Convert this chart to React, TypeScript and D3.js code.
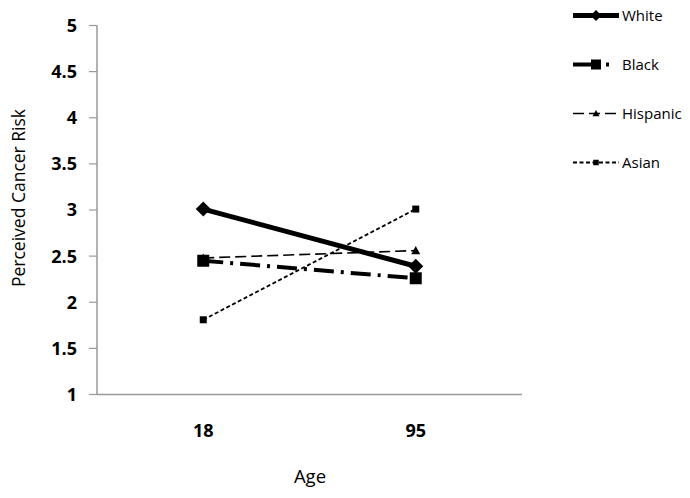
import React from "react";
import * as d3 from "d3";

const ages = ["18", "95"];
const yTicks = [1, 1.5, 2, 2.5, 3, 3.5, 4, 4.5, 5];
const groups = ["White", "Black", "Hispanic", "Asian"];
const white = [3.01, 2.39];
const black = [2.45, 2.26];
const hispanic = [2.48, 2.56];
const asian = [1.81, 3.01];

const width = 690;
const height = 498;
const font = "'Open Sans', Lato, sans-serif";

const styles: Record<string, { w: number; dash: string; legendDash: string; marker: string; size: number; legendSize: number }> = {
  White: { w: 5, dash: "", legendDash: "", marker: "diamond", size: 15, legendSize: 11 },
  Black: { w: 4, dash: "20,7,3,7", legendDash: "19,14,3,40", marker: "square", size: 12, legendSize: 10 },
  Hispanic: { w: 1.6, dash: "11,5", legendDash: "11,5", marker: "triangle", size: 9, legendSize: 7 },
  Asian: { w: 1.8, dash: "4,2.5", legendDash: "4,2.5", marker: "square", size: 7, legendSize: 5.5 },
};

const seriesValues: Record<string, number[]> = { White: white, Black: black, Hispanic: hispanic, Asian: asian };

const Marker = ({ type, x, y, size }: { type: string; x: number; y: number; size: number }) => {
  const h = size / 2;
  if (type === "diamond")
    return <path d={`M${x},${y - h}L${x + h},${y}L${x},${y + h}L${x - h},${y}Z`} fill="#000" />;
  if (type === "triangle")
    return <path d={`M${x},${y - h}L${x + h},${y + h * 0.8}L${x - h},${y + h * 0.8}Z`} fill="#000" />;
  return <rect x={x - h} y={y - h} width={size} height={size} fill="#000" />;
};

export default function App() {
  const x = d3.scaleBand().domain(ages).range([97, 522]);
  const y = d3.scaleLinear().domain([1, 5]).range([394.5, 25.5]);
  const cx = (a: string) => (x(a) as number) + x.bandwidth() / 2;
  const line = d3
    .line<number>()
    .x((_, i) => cx(ages[i]))
    .y((d) => y(d));

  return (
    <svg width={width} height={height} style={{ position: "absolute", left: 0, top: 0, background: "#fff" }}>
      {/* axes */}
      <line x1={97} x2={97} y1={y(5)} y2={y(1)} stroke="#999" strokeWidth={1.5} />
      <line x1={97} x2={522} y1={y(1)} y2={y(1)} stroke="#999" strokeWidth={1.5} />
      {yTicks.map((t) => (
        <g key={t}>
          <line x1={89} x2={97} y1={y(t)} y2={y(t)} stroke="#999" strokeWidth={1.2} />
          <text x={77} y={y(t)} dy="0.36em" textAnchor="end" fontFamily={font} fontWeight="bold" fontSize={18}>
            {t}
          </text>
        </g>
      ))}
      {ages.map((a) => (
        <text key={a} x={cx(a)} y={437} textAnchor="middle" fontFamily={font} fontWeight="bold" fontSize={18}>
          {a}
        </text>
      ))}
      <text x={310} y={483} textAnchor="middle" fontFamily={font} fontSize={18.5}>
        Age
      </text>
      <text transform="translate(25,198) rotate(-90)" textAnchor="middle" fontFamily={font} fontSize={17.5}>
        Perceived Cancer Risk
      </text>

      {/* series */}
      {groups.map((g) => {
        const s = styles[g];
        const vals = seriesValues[g];
        return (
          <g key={g}>
            <path d={line(vals) as string} fill="none" stroke="#000" strokeWidth={s.w} strokeDasharray={s.dash} />
            {vals.map((v, i) => (
              <Marker key={i} type={s.marker} x={cx(ages[i])} y={y(v)} size={s.size} />
            ))}
          </g>
        );
      })}

      {/* legend */}
      {groups.map((g, i) => {
        const s = styles[g];
        const ly = 15.5 + i * 49;
        return (
          <g key={g}>
            <line x1={573} x2={619} y1={ly} y2={ly} stroke="#000" strokeWidth={s.w} strokeDasharray={s.legendDash} />
            <Marker type={s.marker} x={596} y={ly} size={s.legendSize} />
            <text x={622} y={ly} dy="0.36em" fontFamily={font} fontSize={15}>
              {g}
            </text>
          </g>
        );
      })}
    </svg>
  );
}
